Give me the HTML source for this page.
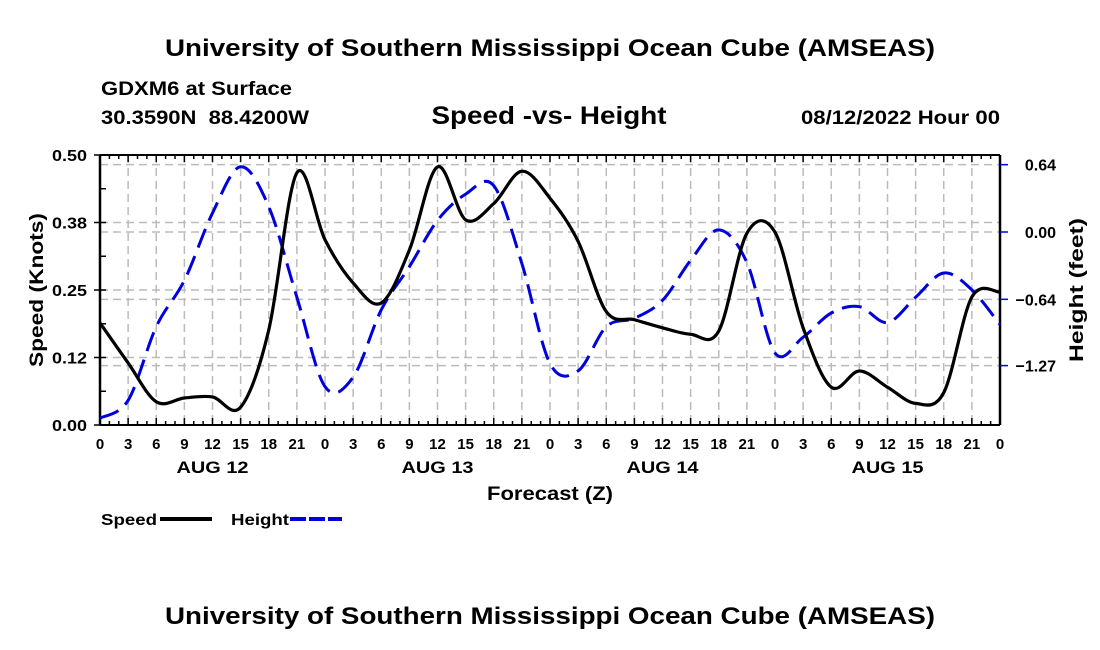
<!DOCTYPE html>
<html><head><meta charset="utf-8"><style>
body{margin:0;background:#fff;}
svg{display:block;font-family:"Liberation Sans",Arial,sans-serif;font-weight:bold;}
</style></head><body>
<svg id="chart" width="1100" height="650" viewBox="0 0 1100 650">
<text x="550" y="56" font-size="24" text-anchor="middle" textLength="770" lengthAdjust="spacingAndGlyphs">University of Southern Mississippi Ocean Cube (AMSEAS)</text>
<text x="101" y="95" font-size="19" textLength="191" lengthAdjust="spacingAndGlyphs">GDXM6 at Surface</text>
<text x="101" y="124" font-size="19" xml:space="preserve" textLength="208" lengthAdjust="spacingAndGlyphs">30.3590N  88.4200W</text>
<text x="549" y="124" font-size="25" text-anchor="middle" textLength="235" lengthAdjust="spacingAndGlyphs">Speed -vs- Height</text>
<text x="1000" y="124" font-size="19" text-anchor="end" textLength="199" lengthAdjust="spacingAndGlyphs">08/12/2022 Hour 00</text>
<g id="grid"></g>
<g id="axes"></g>
<path id="heightLine" fill="none" stroke="#0000dd" stroke-width="3" stroke-dasharray="20,9"/>
<path id="speedLine" fill="none" stroke="#000" stroke-width="3.2"/>
<text transform="translate(43,290) rotate(-90)" font-size="19" text-anchor="middle" textLength="154" lengthAdjust="spacingAndGlyphs">Speed (Knots)</text>
<text transform="translate(1083,290) rotate(-90)" font-size="19" text-anchor="middle" textLength="144" lengthAdjust="spacingAndGlyphs">Height (feet)</text>
<text x="550" y="500" font-size="19" text-anchor="middle" textLength="126" lengthAdjust="spacingAndGlyphs">Forecast (Z)</text>
<g>
<text x="101" y="525" font-size="16" textLength="56" lengthAdjust="spacingAndGlyphs">Speed</text>
<line x1="160" y1="519" x2="212" y2="519" stroke="#000" stroke-width="4"/>
</g>
<g>
<text x="231" y="525" font-size="16" textLength="58" lengthAdjust="spacingAndGlyphs">Height</text>
<line x1="290" y1="519" x2="342" y2="519" stroke="#0000dd" stroke-width="4" stroke-dasharray="16,3"/>
</g>
<text x="550" y="624" font-size="24" text-anchor="middle" textLength="770" lengthAdjust="spacingAndGlyphs">University of Southern Mississippi Ocean Cube (AMSEAS)</text>
</svg>
<script>
const hours = [0,3,6,9,12,15,18,21,24,27,30,33,36,39,42,45,48,51,54,57,60,63,66,69,72,75,78,81,84,87,90,93,96];
const speedValues = [0.189,0.115,0.043,0.05,0.052,0.033,0.176,0.467,0.343,0.263,0.226,0.324,0.478,0.38,0.41,0.47,0.42,0.34,0.21,0.195,0.18,0.168,0.174,0.355,0.357,0.18,0.07,0.10,0.07,0.04,0.06,0.237,0.246];
const heightValues = [-1.77,-1.6,-0.9,-0.46,0.18,0.62,0.24,-0.62,-1.47,-1.38,-0.74,-0.33,0.11,0.36,0.44,-0.3,-1.25,-1.32,-0.9,-0.82,-0.65,-0.27,0.02,-0.29,-1.15,-1.0,-0.77,-0.71,-0.86,-0.62,-0.39,-0.55,-0.88];
const xTickLabels = ["0","3","6","9","12","15","18","21"];
const dayLabels = ["AUG 12","AUG 13","AUG 14","AUG 15"];
const speedTicks = [0,0.125,0.25,0.375,0.5];
const speedTickLabels = ["0.00","0.12","0.25","0.38","0.50"];
const heightTicks = [0.64,0,-0.64,-1.27];
const heightTickLabels = ["0.64","0.00","\u22120.64","\u22121.27"];

const X0=100,X1=1000,Y0=425,Y1=155;
const xs = h => X0 + (h/96)*(X1-X0);
const ys = v => Y0 - (v/0.5)*(Y0-Y1);
const yh = v => 232 - v*105.2;
const NS="http://www.w3.org/2000/svg";
function mk(tag, attrs, parent, txt){const e=document.createElementNS(NS,tag);for(const k in attrs)e.setAttribute(k,attrs[k]);if(txt!==undefined)e.textContent=txt;parent.appendChild(e);return e;}
const grid=document.getElementById('grid'), axes=document.getElementById('axes');
for(let h=3;h<96;h+=3){
  const l=mk('line',{x1:xs(h),x2:xs(h),y1:Y1,y2:Y0,stroke:'#bbb','stroke-width':1.5,'stroke-dasharray':'8,5'},grid);
  
  
}
speedTicks.forEach(v=>{ if(v>0&&v<0.5){const l=mk('line',{x1:X0,x2:X1,y1:ys(v),y2:ys(v),stroke:'#bbb','stroke-width':1.5,'stroke-dasharray':'8,5'},grid);
  
  }});
heightTicks.forEach(v=>{const l=mk('line',{x1:X0,x2:X1,y1:yh(v),y2:yh(v),stroke:'#bbb','stroke-width':1.5,'stroke-dasharray':'8,5'},grid);
  
  });
mk('line',{x1:X0,x2:X1,y1:Y0,y2:Y0,stroke:'#000','stroke-width':2},axes);
mk('line',{x1:X0,x2:X1,y1:Y1,y2:Y1,stroke:'#000','stroke-width':2},axes);
mk('line',{x1:X0,x2:X0,y1:Y1,y2:Y0,stroke:'#000','stroke-width':2.5},axes);
mk('line',{x1:X1,x2:X1,y1:Y1,y2:Y0,stroke:'#000','stroke-width':2.5},axes);
for(let h=0;h<=96;h++){
  const len = h%3===0?7:4;
  mk('line',{x1:xs(h),x2:xs(h),y1:Y0,y2:Y0-len,stroke:'#000','stroke-width':1.5},axes);
  mk('line',{x1:xs(h),x2:xs(h),y1:Y1,y2:Y1+len,stroke:'#000','stroke-width':1.5},axes);
}
for(let h=0;h<=96;h+=3){
  const t=mk('text',{x:xs(h),y:449,'font-size':15,'text-anchor':'middle'},axes,xTickLabels[(h/3)%8]);
  
  
}
dayLabels.forEach((d,i)=>{const t=mk('text',{x:xs(12+24*i),y:473,'font-size':17,'text-anchor':'middle',textLength:72,lengthAdjust:'spacingAndGlyphs'},axes,d);
  
  });
for(let v=0;v<=0.5001;v+=0.0625){mk('line',{x1:X0,x2:X0+6,y1:ys(v),y2:ys(v),stroke:'#000','stroke-width':1.5},axes);}
speedTicks.forEach((v,i)=>{
  mk('line',{x1:X0-6,x2:X0,y1:ys(v),y2:ys(v),stroke:'#000','stroke-width':1.5},axes);
  const t=mk('text',{x:87,y:ys(v)+6,'font-size':16,'text-anchor':'end',textLength:35,lengthAdjust:'spacingAndGlyphs'},axes,speedTickLabels[i]);
  
  
});
heightTicks.forEach((v,i)=>{
  mk('line',{x1:X1,x2:X1+8,y1:yh(v),y2:yh(v),stroke:'#0000dd','stroke-width':1.5},axes);
  const t=mk('text',{x:1056,y:yh(v)+6,'font-size':16,'text-anchor':'end'},axes,heightTickLabels[i]);
  
  
});
function smooth(pts){
  let d='M'+pts[0][0]+','+pts[0][1];
  for(let i=0;i<pts.length-1;i++){
    const p0=pts[Math.max(0,i-1)],p1=pts[i],p2=pts[i+1],p3=pts[Math.min(pts.length-1,i+2)];
    const c1=[p1[0]+(p2[0]-p0[0])/6,p1[1]+(p2[1]-p0[1])/6];
    const c2=[p2[0]-(p3[0]-p1[0])/6,p2[1]-(p3[1]-p1[1])/6];
    d+=' C'+c1[0]+','+c1[1]+' '+c2[0]+','+c2[1]+' '+p2[0]+','+p2[1];
  }
  return d;
}
document.getElementById('speedLine').setAttribute('d',smooth(hours.map((h,i)=>[xs(h),ys(speedValues[i])])));
document.getElementById('heightLine').setAttribute('d',smooth(hours.map((h,i)=>[xs(h),yh(heightValues[i])])));
</script>
</body></html>
